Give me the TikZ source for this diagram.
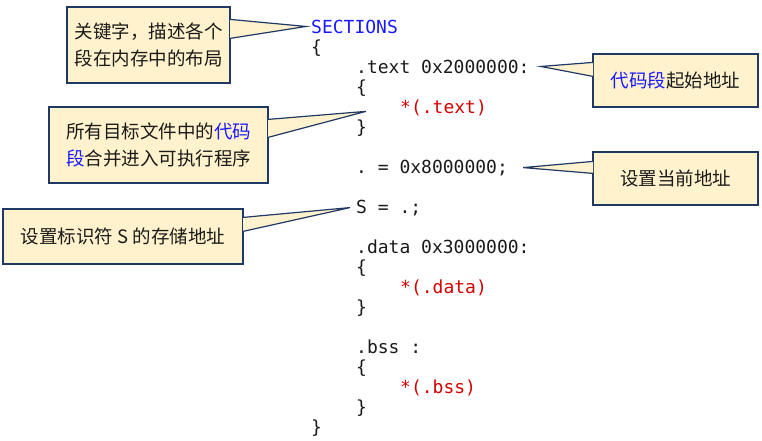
\documentclass[tikz,border=0pt]{standalone}
\usepackage{fontspec}
\usepackage{xcolor}
\setmonofont{DejaVu Sans Mono}
\newfontfamily\cjk{Noto Sans CJK SC}

\definecolor{calloutfill}{HTML}{FFF2CC}
\definecolor{calloutline}{HTML}{1F3864}
\definecolor{keyblue}{HTML}{1A1AFF}
\definecolor{sectred}{HTML}{D40000}
\definecolor{codegray}{HTML}{1A1A1A}

\tikzset{
  code/.style={font=\ttfamily\fontsize{18}{20}\selectfont, text=codegray, inner sep=0pt, anchor=base west},
  callout/.style={draw=calloutline, fill=calloutfill, line width=1.2pt, inner sep=0pt, align=center, text=codegray, font=\cjk\fontsize{18.5}{27}\selectfont},
  tail/.style={draw=calloutline, fill=calloutfill, line width=1.2pt},
}

\begin{document}
\begin{tikzpicture}[x=1pt, y=-1pt]
            \useasboundingbox (0,0) rectangle (762,440);

            % linker script
            \node[code, text=keyblue] (sec) at (311,33) {SECTIONS};
            \node[code] (lb0) at (311,53) {\{};
            \node[code] (text) at (356,73) {.text 0x2000000:};
            \node[code] (lb1) at (356,93) {\{};
            \node[code, text=sectred] (textin) at (400,113) {*(.text)};
            \node[code] (rb1) at (356,133) {\}};
            \node[code] (dot) at (356,173) {. = 0x8000000;};
            \node[code] (sym) at (356,213) {S = .;};
            \node[code] (data) at (356,253) {.data 0x3000000:};
            \node[code] (lb2) at (356,273) {\{};
            \node[code, text=sectred] (datain) at (400,293) {*(.data)};
            \node[code] (rb2) at (356,313) {\}};
            \node[code] (bss) at (356,353) {.bss :};
            \node[code] (lb3) at (356,373) {\{};
            \node[code, text=sectred] (bssin) at (400,393) {*(.bss)};
            \node[code] (rb3) at (356,413) {\}};
            \node[code] (rb0) at (311,433) {\}};

            % callouts
            \node[callout, minimum width=163pt, minimum height=76pt] (kw) at (148.5,45) {关键字，描述各个\\段在内存中的布局};
            \node[callout, minimum width=219pt, minimum height=76pt] (merge) at (158.5,145) {所有目标文件中的\textcolor{keyblue}{代码}\\\textcolor{keyblue}{段}合并进入可执行程序};
            \node[callout, minimum width=165pt, minimum height=53pt] (textaddr) at (675.5,80.5) {\textcolor{keyblue}{代码段}起始地址};
            \node[callout, minimum width=165pt, minimum height=53pt] (curaddr) at (675.5,178.5) {设置当前地址};
            \node[callout, minimum width=240pt, minimum height=55pt] (symaddr) at (123,236.5) {设置标识符 S 的存储地址};

            \coordinate (kwtip) at ([xshift=-5pt]sec.west);
            \coordinate (mergetip) at ([xshift=-34pt, yshift=-4pt]textin.west);
            \coordinate (textaddrtip) at ([xshift=11pt]text.east);
            \coordinate (curaddrtip) at ([xshift=15pt]dot.east);
            \coordinate (symaddrtip) at ([xshift=-6pt]sym.west);

            \draw[tail] ([xshift=-0.6pt, yshift=-13pt]kw.north east) -- (kwtip) -- ([xshift=-0.6pt, yshift=-32pt]kw.north east); % kw-sec
            \draw[tail] ([xshift=-0.6pt, yshift=-13pt]merge.north east) -- (mergetip) -- ([xshift=-0.6pt, yshift=-31pt]merge.north east); % merge-textin
            \draw[tail] ([xshift=0.6pt, yshift=-9pt]textaddr.north west) -- (textaddrtip) -- ([xshift=0.6pt, yshift=-23pt]textaddr.north west); % textaddr-text
            \draw[tail] ([xshift=0.6pt, yshift=-10pt]curaddr.north west) -- (curaddrtip) -- ([xshift=0.6pt, yshift=-22pt]curaddr.north west); % curaddr-dot
            \draw[tail] ([xshift=-0.6pt, yshift=-9pt]symaddr.north east) -- (symaddrtip) -- ([xshift=-0.6pt, yshift=-23pt]symaddr.north east); % symaddr-sym
        \end{tikzpicture}
\end{document}
